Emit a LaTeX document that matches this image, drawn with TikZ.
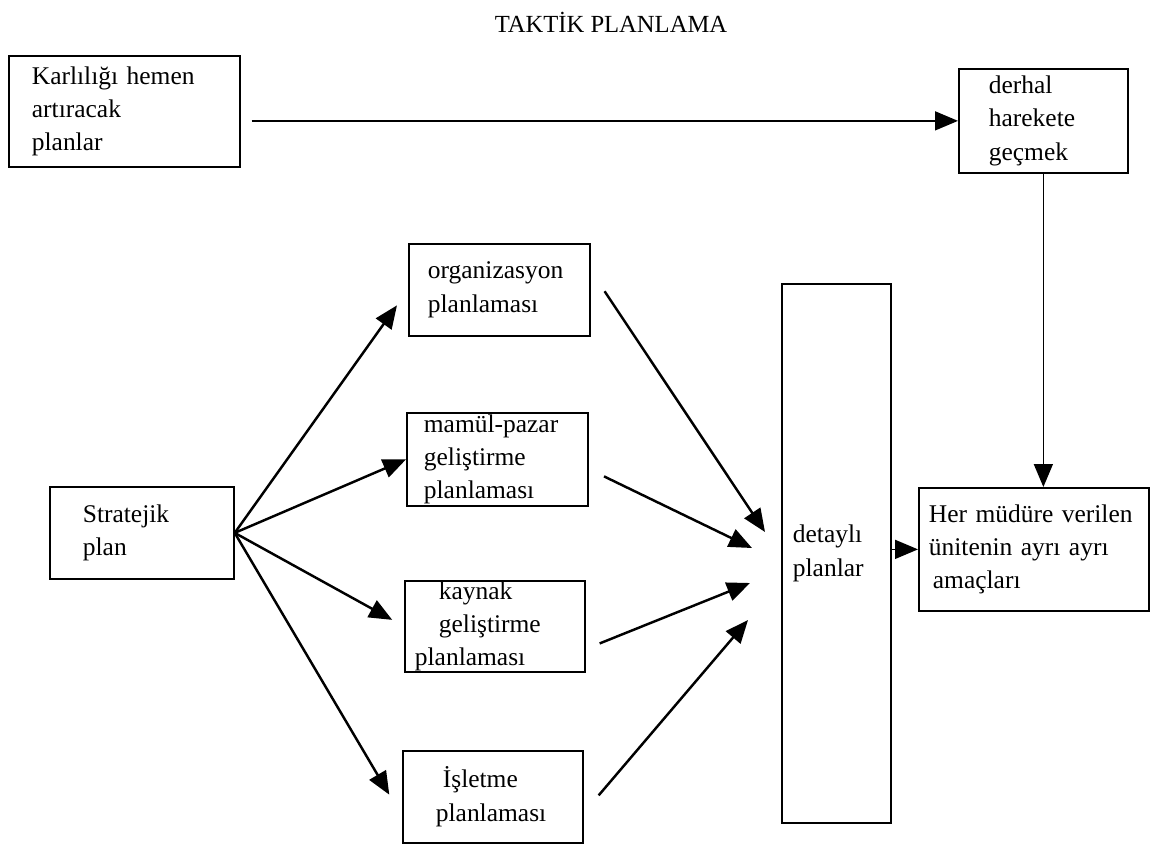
\documentclass[tikz,border=0pt]{standalone}
\usepackage{fontspec}
\setmainfont{Liberation Serif}
\usetikzlibrary{arrows.meta,positioning,calc}

\newcommand{\kutuyazi}{\fontsize{14.5}{19}\selectfont\hyphenpenalty=10000\relax}

\tikzset{
  kutu/.style={draw, line width=1pt, anchor=north west, align=left, inner ysep=0pt, font=\kutuyazi},
  ok/.style={-{Triangle[length=0.46cm,width=0.38cm]}, line width=1.4pt},
  ince/.style={-{Triangle[length=0.46cm,width=0.38cm]}, line width=0.9pt}
}

\begin{document}
\begin{tikzpicture}[x=0.02cm, y=-0.02cm]
    \useasboundingbox (0,0) rectangle (1162,846);
    \node[font=\fontsize{14}{16}\selectfont] (baslik) at (611,22) {TAKTİK PLANLAMA};

    % ust satir
    \node[kutu, minimum height=2.22cm, inner xsep=0.46cm, text width=3.70cm] (karli) at (8,55) {Karlılığı hemen\\artıracak\\planlar};
    \node[kutu, minimum height=2.08cm, inner xsep=0.6cm, text width=2.18cm] (derhal) at (958,68) {derhal\\harekete\\geçmek};

    % planlar
    \node[kutu, minimum height=1.84cm, inner xsep=0.66cm, text width=2.36cm] (strat) at (49,486) {Stratejik\\plan};
    \node[kutu, minimum height=1.84cm, inner xsep=0.38cm, text width=2.86cm] (org) at (408,243) {organizasyon\\planlaması};
    \node[kutu, minimum height=1.86cm, inner xsep=0.34cm, text width=2.94cm] (mamul) at (406,412) {mamül-pazar\\geliştirme\\planlaması};
    \node[kutu, minimum height=1.82cm, inner xsep=0.2cm, text width=3.2cm] (kaynak) at (404,580) {\hspace*{0.48cm}kaynak\\\hspace*{0.48cm}geliştirme\\planlaması};
    \node[kutu, minimum height=1.84cm, inner xsep=0.66cm, text width=2.28cm] (isletme) at (402,750) {\hspace*{0.14cm}İşletme\\planlaması};
    \node[kutu, minimum height=10.78cm, inner xsep=0.22cm, text width=1.74cm] (detay) at (781,283) {detaylı\\planlar};
    \node[kutu, minimum height=2.46cm, inner xsep=0.2cm, text width=4.2cm] (her) at (918,487) {Her müdüre verilen\\ünitenin ayrı ayrı\\\hspace*{0.08cm}amaçları};

    \coordinate (d1) at (765,532);
    \coordinate (d2) at (752,548);
    \coordinate (d3) at (750,583);
    \coordinate (d4) at (748,620);

    % oklar
    \draw[ince, shorten <=0.22cm] (karli.east |- derhal.west) -- (derhal.west);
    \draw[ince] (derhal.south) -- (derhal.south |- her.north);
    \draw[ince] (detay.east |- her.west) -- (her.west);

    \draw[ok, shorten >=0.38cm] (strat.east) -- (org.west);
    \draw[ok] (strat.east) -- (mamul.west);
    \draw[ok, shorten >=0.27cm] (strat.east) -- (kaynak.west);
    \draw[ok, shorten >=0.5cm] (strat.east) -- (isletme.192);

    \draw[ok, shorten <=0.5cm] (org.12) -- (d1);
    \draw[ok, shorten <=0.34cm] (mamul.-6) -- (d2);
    \draw[ok, shorten <=0.3cm] (kaynak.-14) -- (d3);
    \draw[ok, shorten <=0.46cm] (isletme.-10) -- (d4);
\end{tikzpicture}
\end{document}
